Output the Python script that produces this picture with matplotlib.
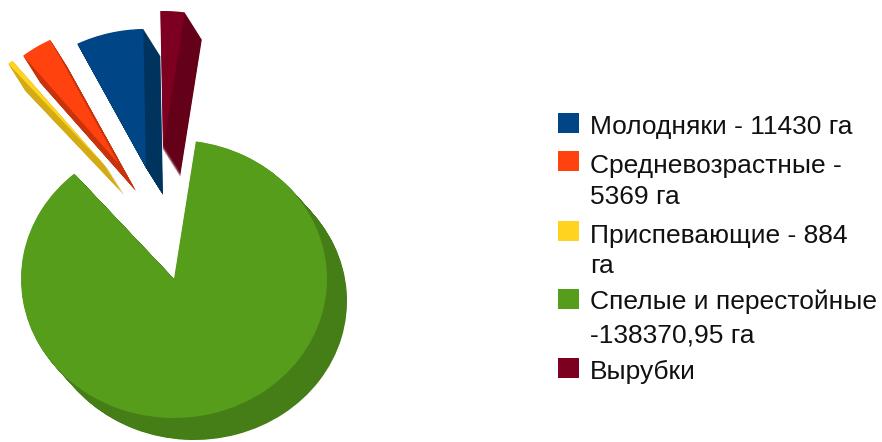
import matplotlib
matplotlib.use("Agg")
import matplotlib.pyplot as plt
from matplotlib.patches import Wedge, Rectangle
import numpy as np

W, H = 882, 442
values = [11430, 5369, 884, 138370.95, 4097]
colors = ['#004586', '#ff420e', '#ffd320', '#579d1c', '#7e0021']
dark = ['#00345f', '#c9330b', '#d4ab14', '#457d16', '#650019']
labels = ['Молодняки - 11430 га', 'Средневозрастные -\n5369 га', 'Приспевающие - 884\nга',
          'Спелые и перестойные\n-138370,95 га', 'Вырубки']
offset_x = [-0.183, -0.36, -0.431, 0.0, -0.072]
offset_y = [0.799, 0.827, 0.791, 0.0, 0.928]
depth_x = [17, 17, 17, 20, 17]
depth_y = [27, 27, 27, 22, 27]

RX, RY = 153.0, 139.0
CX, CY = 174.0, 279.0

fig = plt.figure(figsize=(W / 100, H / 100), dpi=100, facecolor='white')
ax = fig.add_axes([0, 0, 1, 1])
wedges, _ = ax.pie(values, colors=colors, startangle=91, counterclock=True, radius=1,
                   wedgeprops={'linewidth': 0, 'zorder': 5})
ax.set_aspect('auto')
ax.set_xlim(-CX / RX, (W - CX) / RX)
ax.set_ylim(-(H - CY) / RY, CY / RY)
ax.axis('off')

for i, w in enumerate(wedges):
    cx, cy = offset_x[i], offset_y[i]
    w.set_center((cx, cy))
    for t in np.linspace(1, 0.02, 40):
        ax.add_patch(Wedge((cx + t * depth_x[i] / RX, cy - t * depth_y[i] / RY), 1,
                           w.theta1, w.theta2, facecolor=dark[i], edgecolor='none', zorder=2))

font = 'Liberation Sans'
FS = 19.0
baselines = [[134], [173, 204], [243, 273], [309, 343], [379]]
tops = [113, 151, 221, 289, 358]
for i, lab in enumerate(labels):
    fig.add_artist(Rectangle((558 / W, 1 - (tops[i] + 20) / H), 21 / W, 20 / H,
                             transform=fig.transFigure, facecolor=colors[i], edgecolor='none'))
    for line, b in zip(lab.split('\n'), baselines[i]):
        fig.text(590 / W, 1 - b / H, line, fontsize=FS, family=font, color='#111111',
                 ha='left', va='baseline')

fig.savefig('out.png', dpi=100, facecolor='white')
